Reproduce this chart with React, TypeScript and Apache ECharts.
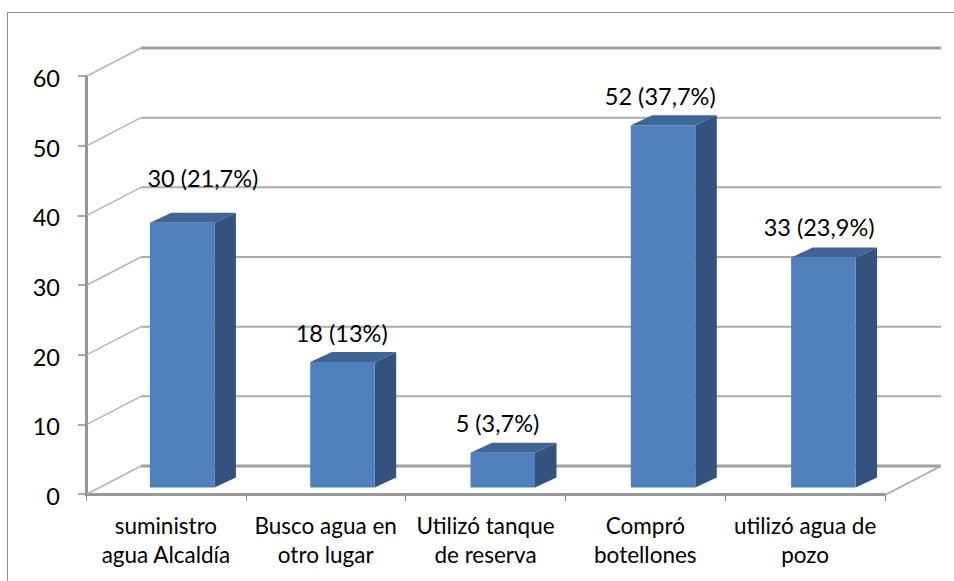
import React, { useEffect, useRef } from "react";
import * as echarts from "echarts";

const categories = ["suministro\nagua Alcaldía", "Busco agua en\notro lugar", "Utilizó tanque\nde reserva", "Compró\nbotellones", "utilizó agua de\npozo"];
const barValues = [38, 18, 5, 52, 33];
const barLabels = ["30 (21,7%)", "18 (13%)", "5 (3,7%)", "52 (37,7%)", "33 (23,9%)"];
const gridValues = [0, 10, 20, 30, 40, 50, 60];

const FONT = "Lato, Carlito, Calibri, sans-serif";
const labelOffsets = [[37, -45], [16, -29], [12, -30], [15, -29], [14, -31]];
const WALL_DX = 54;
const WALL_DY = -28;
const BAR_LEFT = -16;
const BAR_DRIFT = 0.5;
const BAR_W = 64.5;
const BAR_DX = 21.5;
const BAR_DY = -10;
const BASE_DY = -6.5;

function renderGrid(params: any, api: any) {
  const v = api.value(1);
  const cs = params.coordSys;
  const y = api.coord([0, v])[1];
  const x0 = cs.x + 1;
  const x1 = x0 + WALL_DX;
  const x2 = cs.x + cs.width + WALL_DX + 2;
  const heavy = v === 0 || v === 60;
  const children: any[] = [
    { type: "line", shape: { x1: x0, y1: y, x2: x1, y2: y + WALL_DY }, style: { stroke: "#b4b4b4", lineWidth: 1.5 } },
    { type: "line", shape: { x1, y1: y + WALL_DY, x2, y2: y + WALL_DY }, style: { stroke: heavy ? "#a0a0a0" : "#ababab", lineWidth: heavy ? 3 : 2 } },
  ];
  if (v === 0) {
    children.push({ type: "line", shape: { x1: cs.x + cs.width, y1: y + 1, x2: x2, y2: y + WALL_DY }, style: { stroke: "#a6a6a6", lineWidth: 1.5 } });
  }
  return { type: "group", children };
}

function renderBar(params: any, api: any) {
  const i = api.value(0);
  const v = api.value(1);
  const [cx, yTop] = api.coord([i, v]);
  const [, yBase] = api.coord([i, 0]);
  const l = cx + BAR_LEFT + i * BAR_DRIFT;
  const r = l + BAR_W;
  const t = yTop + BASE_DY;
  const b = yBase + BASE_DY;
  const off = labelOffsets[params.dataIndex];
  return {
    type: "group",
    children: [
      { type: "polygon", shape: { points: [[r, t], [r + BAR_DX, t + BAR_DY], [r + BAR_DX, b + BAR_DY], [r, b]] }, style: { fill: "#32537d" } },
      { type: "polygon", shape: { points: [[l, t], [l + BAR_DX, t + BAR_DY], [r + BAR_DX, t + BAR_DY], [r, t]] }, style: { fill: "#3d6597" } },
      { type: "rect", shape: { x: l, y: t, width: BAR_W, height: b - t }, style: { fill: "#4f81bd" } },
      {
        type: "text",
        style: {
          text: barLabels[params.dataIndex],
          x: cx + off[0],
          y: t + off[1],
          align: "center",
          verticalAlign: "middle",
          fontSize: 23.5,
          fontFamily: FONT,
          fill: "#000000",
        },
      },
    ],
  };
}

export default function App() {
  const ref = useRef<HTMLDivElement>(null);
  useEffect(() => {
    document.body.style.margin = "0";
    const chart = echarts.init(ref.current!, undefined, { renderer: "svg" });
    chart.setOption({
      animation: false,
      backgroundColor: "#ffffff",
      grid: { left: 86, right: 69, top: 76, bottom: 87, containLabel: false },
      xAxis: {
        type: "category",
        data: categories,
        axisLine: { lineStyle: { color: "#989898", width: 3 } },
        axisTick: { show: true, length: 7, lineStyle: { color: "#8c8c8c", width: 1 } },
        axisLabel: { color: "#000000", fontSize: 22.5, fontFamily: FONT, lineHeight: 29, margin: 17, interval: 0 },
        splitLine: { show: false },
      },
      yAxis: {
        type: "value",
        min: 0,
        max: 60,
        interval: 10,
        axisLine: { show: true, lineStyle: { color: "#959595", width: 3 } },
        axisTick: { show: true, length: 8, lineStyle: { color: "#8c8c8c", width: 1.5 } },
        axisLabel: {
          margin: 26,
          formatter: "{a|{value}}",
          rich: { a: { color: "#000000", fontSize: 23.5, fontFamily: FONT, padding: [4, 0, 0, 0] } },
        },
        splitLine: { show: false },
      },
      graphic: [
        { type: "polyline", silent: true, z: 0, shape: { points: [[7.5, 581], [7.5, 12.5], [954, 12.5]] }, style: { stroke: "#8c8c8c", lineWidth: 1, fill: "none" } },
      ],
      series: [
        { type: "custom", silent: true, z: 1, renderItem: renderGrid, data: gridValues.map((v) => [0, v]) },
        { type: "custom", silent: true, z: 3, renderItem: renderBar, data: barValues.map((v, i) => [i, v]) },
      ],
    });
    return () => chart.dispose();
  }, []);
  return <div ref={ref} style={{ position: "fixed", left: 0, top: 0, width: 954, height: 581 }} />;
}
